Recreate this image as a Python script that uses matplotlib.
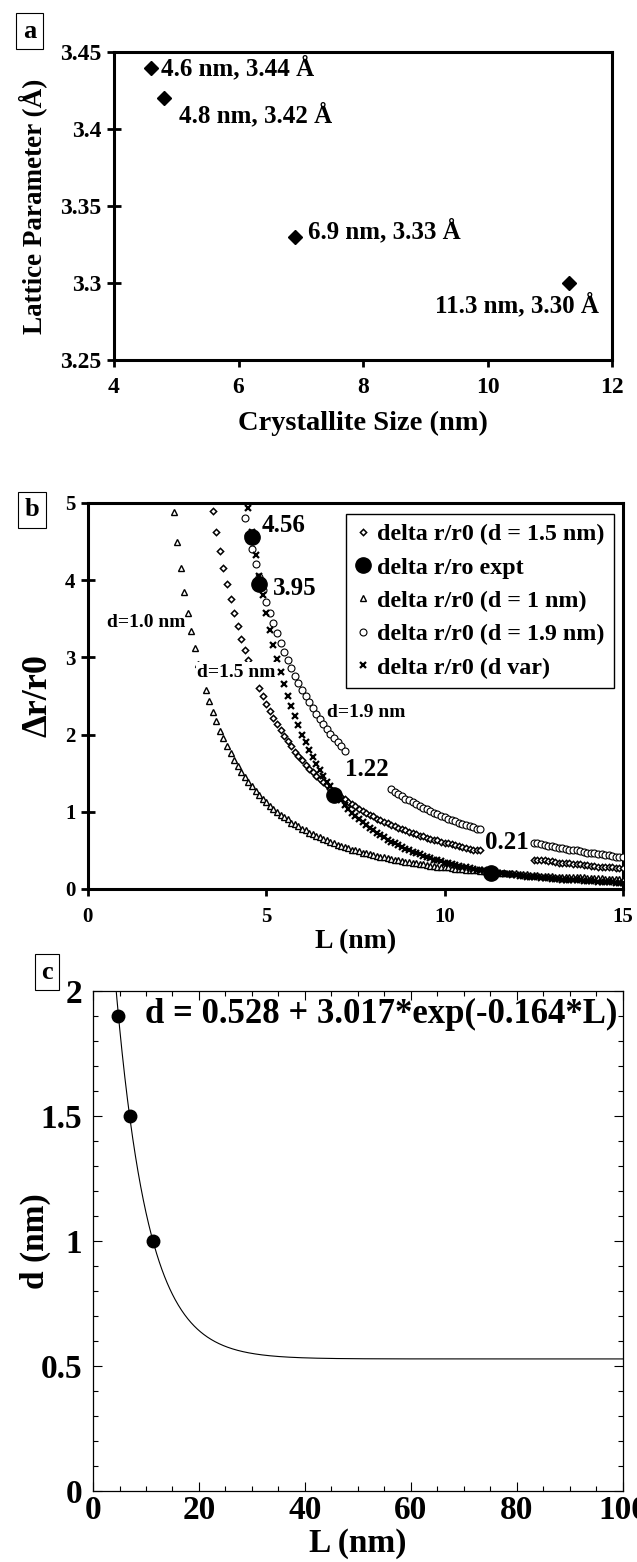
import numpy as np
import matplotlib
matplotlib.use("Agg")
import matplotlib.pyplot as plt
from matplotlib.ticker import FuncFormatter, MultipleLocator

plt.rcParams["font.family"] = ["Liberation Serif", "DejaVu Serif"]
plt.rcParams["font.weight"] = "bold"
plt.rcParams["axes.labelweight"] = "bold"
plt.rcParams["mathtext.default"] = "regular"

# ── Panel a: lattice parameter vs crystallite size ─────────────────────────────
size_nm = [4.6, 4.8, 6.9, 11.3]
lattice_A = [3.44, 3.42, 3.33, 3.30]
lattice_labels = ["4.6 nm, 3.44 Å", "4.8 nm, 3.42 Å", "6.9 nm, 3.33 Å", "11.3 nm, 3.30 Å"]

# ── Panel b: delta r / r0 vs L (None = hidden behind a label) ─────────────────
L_grid = [
    2.4, 2.5, 2.6, 2.7, 2.8, 2.9, 3.0, 3.1, 3.2, 3.3,
    3.4, 3.5, 3.6, 3.7, 3.8, 3.9, 4.0, 4.1, 4.2, 4.3,
    4.4, 4.5, 4.6, 4.7, 4.8, 4.9, 5.0, 5.1, 5.2, 5.3,
    5.4, 5.5, 5.6, 5.7, 5.8, 5.9, 6.0, 6.1, 6.2, 6.3,
    6.4, 6.5, 6.6, 6.7, 6.8, 6.9, 7.0, 7.1, 7.2, 7.3,
    7.4, 7.5, 7.6, 7.7, 7.8, 7.9, 8.0, 8.1, 8.2, 8.3,
    8.4, 8.5, 8.6, 8.7, 8.8, 8.9, 9.0, 9.1, 9.2, 9.3,
    9.4, 9.5, 9.6, 9.7, 9.8, 9.9, 10.0, 10.1, 10.2, 10.3,
    10.4, 10.5, 10.6, 10.7, 10.8, 10.9, 11.0, 11.1, 11.2, 11.3,
    11.4, 11.5, 11.6, 11.7, 11.8, 11.9, 12.0, 12.1, 12.2, 12.3,
    12.4, 12.5, 12.6, 12.7, 12.8, 12.9, 13.0, 13.1, 13.2, 13.3,
    13.4, 13.5, 13.6, 13.7, 13.8, 13.9, 14.0, 14.1, 14.2, 14.3,
    14.4, 14.5, 14.6, 14.7, 14.8, 14.9, 15.0,
]
N = None
dr_d10 = [  # d = 1 nm
    4.88, 4.50, 4.16, 3.85, 3.58, 3.34, 3.12, 2.92, N, 2.58,
    2.43, 2.29, 2.17, 2.05, 1.95, 1.85, 1.76, 1.67, 1.59, 1.52,
    1.45, 1.39, 1.33, 1.27, 1.22, 1.17, 1.12, 1.08, 1.04, 1.00,
    0.96, 0.93, 0.90, 0.86, 0.84, 0.81, 0.78, 0.76, 0.73, 0.71,
    0.69, 0.67, 0.65, 0.63, 0.61, 0.59, 0.57, 0.56, 0.54, 0.53,
    0.51, 0.50, 0.49, 0.47, 0.46, 0.45, 0.44, 0.43, 0.42, 0.41,
    0.40, 0.39, 0.38, 0.37, 0.36, 0.35, 0.35, 0.34, 0.33, 0.32,
    0.32, 0.31, 0.30, 0.30, 0.29, 0.29, 0.28, 0.28, 0.27, 0.26,
    0.26, 0.26, 0.25, 0.25, 0.24, 0.24, 0.23, 0.23, 0.22, 0.22,
    0.22, 0.21, 0.21, 0.21, 0.20, 0.20, 0.20, 0.19, 0.19, 0.19,
    0.18, 0.18, 0.18, 0.17, 0.17, 0.17, 0.17, 0.16, 0.16, 0.16,
    0.16, 0.15, 0.15, 0.15, 0.15, 0.15, 0.14, 0.14, 0.14, 0.14,
    0.14, 0.13, 0.13, 0.13, 0.13, 0.13, 0.12,
]
dr_d15 = [  # d = 1.5 nm
    N, N, N, N, N, N, N, N, N, N,
    N, 4.90, 4.63, 4.38, 4.16, 3.95, 3.75, 3.57, 3.40, 3.24,
    3.10, 2.96, N, N, 2.60, 2.50, 2.40, 2.31, 2.22, 2.14,
    2.06, 1.98, 1.91, 1.85, 1.78, 1.72, 1.67, 1.61, 1.56, 1.51,
    1.46, 1.42, 1.38, 1.34, 1.30, 1.26, 1.22, 1.19, 1.16, 1.13,
    1.10, 1.07, 1.04, 1.01, 0.99, 0.96, 0.94, 0.91, 0.89, 0.87,
    0.85, 0.83, 0.81, 0.79, 0.78, 0.76, 0.74, 0.72, 0.71, 0.69,
    0.68, 0.66, 0.65, 0.64, 0.63, 0.61, 0.60, 0.59, 0.58, 0.57,
    0.56, 0.54, 0.53, 0.52, 0.51, 0.50, 0.50, N, N, N,
    N, N, N, N, N, N, N, N, N, N,
    N, 0.38, 0.38, 0.37, 0.37, 0.36, 0.36, 0.35, 0.34, 0.34,
    0.33, 0.33, 0.32, 0.32, 0.32, 0.31, 0.31, 0.30, 0.30, 0.29,
    0.29, 0.29, 0.28, 0.28, 0.27, 0.27, 0.27,
]
dr_d19 = [  # d = 1.9 nm
    N, N, N, N, N, N, N, N, N, N,
    N, N, N, N, N, N, N, N, N, N,
    4.80, 4.59, 4.40, 4.21, 4.04, 3.87, 3.72, 3.58, 3.44, 3.31,
    3.19, 3.07, 2.97, 2.86, 2.76, 2.67, 2.58, 2.50, 2.42, 2.34,
    2.27, 2.20, 2.14, 2.07, 2.01, 1.95, 1.90, 1.85, 1.79, N,
    N, N, N, N, N, N, N, N, N, N,
    N, 1.29, 1.26, 1.23, 1.20, 1.17, 1.15, 1.12, 1.10, 1.08,
    1.05, 1.03, 1.01, 0.99, 0.97, 0.95, 0.93, 0.91, 0.89, 0.88,
    0.86, 0.84, 0.83, 0.81, 0.80, 0.78, 0.77, N, N, N,
    N, N, N, N, N, N, N, N, N, N,
    N, 0.60, 0.59, 0.58, 0.57, 0.56, 0.55, 0.54, 0.53, 0.53,
    0.52, 0.51, 0.50, 0.50, 0.49, 0.48, 0.47, 0.47, 0.46, 0.45,
    0.45, 0.44, 0.44, 0.43, 0.42, 0.42, 0.41,
]
dr_dvar = [  # d varying with L
    N, N, N, N, N, N, N, N, N, N,
    N, N, N, N, N, N, N, N, N, N,
    N, 4.93, 4.62, 4.33, 4.05, 3.81, 3.58, 3.36, 3.16, 2.98,
    2.81, 2.65, 2.50, 2.37, 2.24, 2.12, 2.00, 1.90, 1.80, 1.71,
    1.62, 1.54, 1.46, 1.39, 1.33, 1.26, 1.20, 1.15, 1.09, 1.04,
    0.99, 0.95, 0.91, 0.87, 0.83, 0.79, 0.76, 0.73, 0.70, 0.67,
    0.64, 0.61, 0.59, 0.57, 0.54, 0.52, 0.50, 0.48, 0.46, 0.45,
    0.43, 0.41, 0.40, 0.38, 0.37, 0.36, 0.34, 0.33, 0.32, 0.31,
    0.30, 0.29, 0.28, 0.27, 0.26, 0.25, 0.24, 0.24, 0.23, 0.22,
    0.21, 0.21, 0.20, 0.19, 0.19, 0.18, 0.18, 0.17, 0.17, 0.16,
    0.16, 0.15, 0.15, 0.14, 0.14, 0.14, 0.13, 0.13, 0.13, 0.12,
    0.12, 0.12, 0.11, 0.11, 0.11, 0.10, 0.10, 0.10, 0.10, 0.09,
    0.09, 0.09, 0.09, 0.09, 0.08, 0.08, 0.08,
]
L_expt = [4.6, 4.8, 6.9, 11.3]
dr_expt = [4.56, 3.95, 1.22, 0.21]
expt_labels = ["4.56", "3.95", "1.22", "0.21"]

# ── Panel c: d vs L with exponential fit ──────────────────────────────────────
L_d = [4.8, 6.9, 11.3]
d_nm = [1.9, 1.5, 1.0]
fit_a, fit_b, fit_k = 0.528, 3.017, 0.164


def arr(values):
    return np.array([np.nan if v is None else v for v in values], dtype=float)


fig = plt.figure(figsize=(6.37, 15.62), dpi=100)

# ── a ─────────────────────────────────────────────────────────────────────────
ax = fig.add_axes([0.179, 0.7695, 0.782, 0.197])
ax.plot(size_nm, lattice_A, "D", color="black", ms=7, zorder=3)
offsets_a = [(7, 0, "left"), (11, -12, "left"), (10, 4, "left"), (22, -16, "right")]
for x, y, lab, (dx, dy, ha) in zip(size_nm, lattice_A, lattice_labels, offsets_a):
    ax.annotate(lab, (x, y), xytext=(dx, dy), textcoords="offset points",
                ha=ha, va="center", fontsize=18)
ax.set_xlim(4, 12)
ax.set_ylim(3.25, 3.45)
ax.set_xticks([4, 6, 8, 10, 12])
ax.set_yticks([3.25, 3.3, 3.35, 3.4, 3.45])
ax.yaxis.set_major_formatter(FuncFormatter(lambda v, _: f"{v:g}"))
ax.tick_params(axis="x", direction="out", length=5, width=2, pad=7, labelsize=17)
ax.tick_params(axis="y", direction="inout", length=10, width=2, pad=4, labelsize=17)
for s in ax.spines.values():
    s.set_linewidth(2.2)
ax.set_xlabel("Crystallite Size (nm)", fontsize=20.5)
ax.set_ylabel("Lattice Parameter (Å)", fontsize=19.5)
ax.xaxis.set_label_coords(0.5, -0.165)
ax.yaxis.set_label_coords(-0.135, 0.5)

# ── b ─────────────────────────────────────────────────────────────────────────
ax = fig.add_axes([0.138, 0.4309, 0.840, 0.2471])
Lg = np.array(L_grid)
ax.plot(Lg, arr(dr_d15), "D", ms=3.2, mfc="white", mec="black", mew=1.1,
        ls="none", label="delta r/r0 (d = 1.5 nm)", zorder=3)
ax.plot(L_expt, dr_expt, "o", ms=11, color="black", ls="none",
        label="delta r/ro expt", zorder=6)
ax.plot(Lg, arr(dr_d10), "^", ms=5, mfc="white", mec="black", mew=1.0,
        ls="none", label="delta r/r0 (d = 1 nm)", zorder=3)
ax.plot(Lg, arr(dr_d19), "o", ms=5, mfc="white", mec="black", mew=0.8,
        ls="none", label="delta r/r0 (d = 1.9 nm)", zorder=3)
ax.plot(Lg, arr(dr_dvar), "x", ms=5, color="black", mew=1.6,
        ls="none", label="delta r/r0 (d var)", zorder=4)

offsets_b = [(7, 8), (10, -3), (8, 18), (-4, 22)]
for x, y, lab, (dx, dy) in zip(L_expt, dr_expt, expt_labels, offsets_b):
    ax.annotate(lab, (x, y), xytext=(dx, dy), textcoords="offset points",
                ha="left", va="center", fontsize=18, zorder=7)
box = dict(facecolor="white", edgecolor="none", pad=1)
ax.text(0.53, 3.45, "d=1.0 nm", fontsize=14, va="center", zorder=5)
ax.text(3.06, 2.81, "d=1.5 nm", fontsize=14, va="center", bbox=box, zorder=5)
ax.text(6.70, 2.28, "d=1.9 nm", fontsize=14, va="center", zorder=5)

leg = ax.legend(loc="upper left", bbox_to_anchor=(0.482, 0.972), fontsize=17.3,
                frameon=True, fancybox=False, edgecolor="black", framealpha=1,
                handlelength=0.6, handletextpad=0.3, borderpad=0.4,
                labelspacing=0.48, borderaxespad=0)
leg.get_frame().set_linewidth(1.0)

ax.set_xlim(0, 15)
ax.set_ylim(0, 5)
ax.set_xticks([0, 5, 10, 15])
ax.set_yticks([0, 1, 2, 3, 4, 5])
ax.tick_params(axis="x", direction="out", length=5, width=2, pad=8, labelsize=15)
ax.tick_params(axis="y", direction="inout", length=10, width=2, pad=4, labelsize=15)
for s in ax.spines.values():
    s.set_linewidth(2.2)
ax.set_xlabel("L (nm)", fontsize=20)
ax.set_ylabel("Δr/r0", fontsize=26)
ax.xaxis.set_label_coords(0.5, -0.104)
ax.yaxis.set_label_coords(-0.062, 0.5)

# ── c ─────────────────────────────────────────────────────────────────────────
ax = fig.add_axes([0.146, 0.0455, 0.832, 0.3201])
L_fit = np.linspace(0, 100, 1001)
ax.plot(L_fit, fit_a + fit_b * np.exp(-fit_k * L_fit), color="black", lw=0.8)
ax.plot(L_d, d_nm, "o", ms=9, color="black")
ax.text(9.8, 1.905, f"d = {fit_a} + {fit_b}*exp(-{fit_k}*L)", fontsize=25,
        va="center", ha="left")
ax.set_xlim(0, 100)
ax.set_ylim(0, 2)
ax.set_xticks([0, 20, 40, 60, 80, 100])
ax.set_yticks([0, 0.5, 1, 1.5, 2])
ax.yaxis.set_major_formatter(FuncFormatter(lambda v, _: f"{v:g}"))
ax.xaxis.set_minor_locator(MultipleLocator(5))
ax.yaxis.set_minor_locator(MultipleLocator(0.1))
ax.tick_params(which="both", direction="in", top=True, right=True, width=0.8)
ax.tick_params(which="major", length=6.5, labelsize=24)
ax.tick_params(which="minor", length=3.5)
ax.tick_params(axis="x", pad=3)
ax.tick_params(axis="y", pad=8)
for s in ax.spines.values():
    s.set_linewidth(0.9)
ax.set_xlabel("L (nm)", fontsize=24)
ax.set_ylabel("d (nm)", fontsize=24)
ax.xaxis.set_label_coords(0.5, -0.074)
ax.yaxis.set_label_coords(-0.079, 0.5)

# ── panel letters ─────────────────────────────────────────────────────────────
letter_box = dict(facecolor="white", edgecolor="black", linewidth=0.8,
                  boxstyle="square,pad=0.25")
for txt, x, y in [("a", 0.0463, 0.980), ("b", 0.0495, 0.6735), ("c", 0.0738, 0.3777)]:
    fig.text(x, y, txt, fontsize=19, ha="center", va="center", bbox=letter_box)

fig.savefig("out.png", dpi=100)
